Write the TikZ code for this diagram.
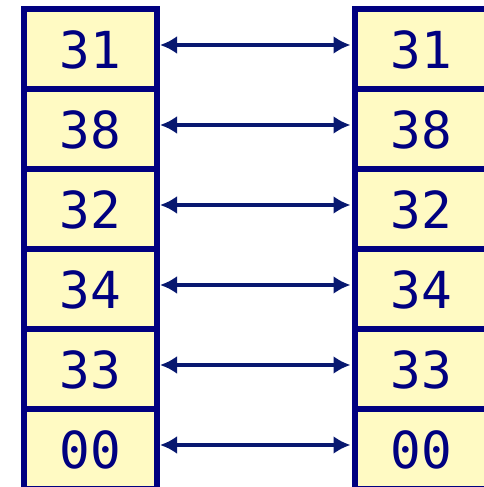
\documentclass[tikz,border=0pt]{standalone}
\usepackage{fontspec}
\setmonofont{DejaVu Sans Mono}
\usetikzlibrary{arrows.meta}
\definecolor{navy}{RGB}{0,0,128}
\definecolor{linknavy}{RGB}{8,24,112}
\definecolor{cellfill}{RGB}{255,250,195}
\tikzset{
  cell/.style={draw=navy, fill=cellfill, line width=6pt, minimum width=133pt, minimum height=80pt,
    inner sep=0pt, outer sep=0pt, text=navy, font=\ttfamily\fontsize{51}{60}\selectfont},
  link/.style={draw=linknavy, line width=4.5pt, {Latex[length=17pt,width=18pt]}-{Latex[length=17pt,width=18pt]},
    shorten <=3pt, shorten >=4pt}
}
\begin{document}
\begin{tikzpicture}[x=1pt,y=1pt]
\useasboundingbox (0,0) rectangle (484,487);
\clip (0,0) rectangle (484,487);
\foreach \i/\v in {1/31,2/38,3/32,4/34,5/33,6/00}{
  \node[cell] (L\i) at (90.5, {487-49.5-80*(\i-1)}) {\v};
  \node[cell] (R\i) at (421, {487-49.5-80*(\i-1)}) {\v};
  \draw[link] ([yshift=4.5pt]L\i.east) -- ([yshift=4.5pt]R\i.west);
}
\end{tikzpicture}
\end{document}
